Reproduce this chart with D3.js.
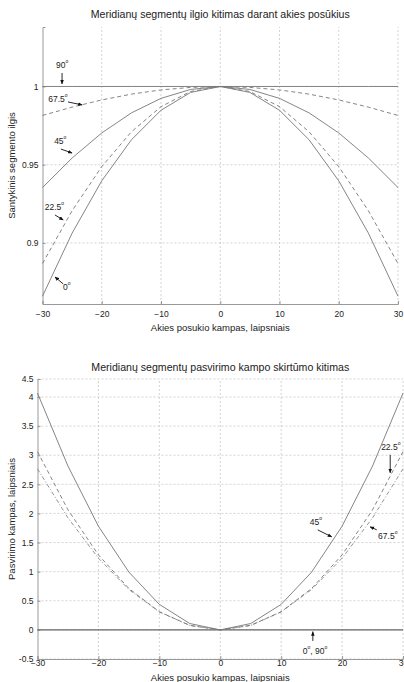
<!DOCTYPE html>
<html><head><meta charset="utf-8">
<script src="https://cdn.jsdelivr.net/npm/d3@7"></script>
<style>body{margin:0;background:#fff}svg{display:block}text{font-family:"Liberation Sans",Arial,sans-serif;fill:#222}</style>
</head><body>
<svg id="c" width="404" height="682"></svg>
<script>
// ---- data ----
const angles = [-30,-25,-20,-15,-10,-5,0,5,10,15,20,25,30];
const xTicks = [-30,-20,-10,0,10,20,30];
// chart 1: relative segment length
const len0   = [0.8660,0.9063,0.9397,0.9659,0.9848,0.9962,1,0.9962,0.9848,0.9659,0.9397,0.9063,0.8660];
const len225 = [0.8869,0.9206,0.9488,0.9710,0.9871,0.9968,1,0.9968,0.9871,0.9710,0.9488,0.9206,0.8869];
const len45  = [0.9354,0.9543,0.9703,0.9831,0.9924,0.9981,1,0.9981,0.9924,0.9831,0.9703,0.9543,0.9354];
const len675 = [0.9815,0.9868,0.9914,0.9951,0.9978,0.9994,1,0.9994,0.9978,0.9951,0.9914,0.9868,0.9815];
const len90  = [1,1,1,1,1,1,1,1,1,1,1,1,1];
const yTicks1 = [0.9,0.95,1];
// chart 2: tilt angle difference
const tilt45  = [4.107,2.814,1.781,0.993,0.438,0.109,0,0.109,0.438,0.993,1.781,2.814,4.107];
const tilt225 = [3.061,2.062,1.288,0.711,0.312,0.077,0,0.077,0.312,0.711,1.288,2.062,3.061];
const tilt675 = [2.766,1.924,1.232,0.694,0.308,0.077,0,0.077,0.308,0.694,1.232,1.924,2.766];
const tilt0_90 = [0,0,0,0,0,0,0,0,0,0,0,0,0];
const yTicks2 = [-0.5,0,0.5,1,1.5,2,2.5,3,3.5,4,4.5];

const svg = d3.select("#c");
const defs = svg.append("defs");
defs.append("marker").attr("id","ah").attr("viewBox","0 0 10 10").attr("refX",9).attr("refY",5)
  .attr("markerWidth",5).attr("markerHeight",5).attr("orient","auto")
  .append("path").attr("d","M0,1L10,5L0,9z").attr("fill","#111");

function chart(opt){
  const {x,y,yTicks,series,title,titleY,ylabel,xlabelY,annots,tickFmt,xPad} = opt;
  const g = svg.append("g");
  const [x0,x1] = x.range();
  const yb = y(y.domain()[0]), yt = y(y.domain()[y.domain().length-1]);
  // grid
  g.selectAll(".gv").data(xTicks.slice(1)).join("line")
    .attr("x1",d=>x(d)).attr("x2",d=>x(d)).attr("y1",yb).attr("y2",yt)
    .attr("stroke","#c8c8c8").attr("stroke-width",0.8).attr("stroke-dasharray","2,2");
  g.selectAll(".gh").data(yTicks).join("line")
    .attr("x1",x0).attr("x2",x1).attr("y1",d=>y(d)).attr("y2",d=>y(d))
    .attr("stroke","#c8c8c8").attr("stroke-width",0.8).attr("stroke-dasharray","2,2");
  // axes
  const ax = g.append("g").attr("transform",`translate(0,${yb})`)
    .call(d3.axisBottom(x).tickValues(xTicks).tickSize(-3).tickPadding(xPad).tickFormat(d3.format("d")));
  const ay = g.append("g").attr("transform",`translate(${x0},0)`)
    .call(d3.axisLeft(y).tickValues(yTicks).tickSize(-3).tickPadding(4).tickFormat(tickFmt));
  [ax,ay].forEach(a=>{
    a.select(".domain").attr("stroke","#999").attr("stroke-width",1);
    a.selectAll(".tick line").attr("stroke","#999");
    a.selectAll(".tick text").attr("font-size",8.5).attr("fill","#222")
      .attr("font-family",'"Liberation Sans",Arial,sans-serif');
  });
  // lines
  const line = d3.line().x((d,i)=>x(angles[i])).y(d=>y(d));
  series.forEach(s=>{
    g.append("path").datum(s.values).attr("d",line).attr("fill","none")
      .attr("stroke",s.color||"#777").attr("stroke-width",s.width||0.9)
      .attr("stroke-dasharray",s.dash||null);
  });
  // titles
  g.append("text").attr("x",(x0+x1)/2).attr("y",titleY).attr("text-anchor","middle")
    .attr("font-size",10.6).text(title);
  g.append("text").attr("x",(x0+x1)/2).attr("y",xlabelY).attr("text-anchor","middle")
    .attr("font-size",9.5).text("Akies posukio kampas, laipsniais");
  g.append("text").attr("transform",`translate(15,${(yb+yt)/2}) rotate(-90)`)
    .attr("text-anchor","middle").attr("font-size",9.5).text(ylabel);
  // annotations
  annots.forEach(a=>{
    const t = g.append("text").attr("x",x(a.tx)).attr("y",y(a.ty)).attr("text-anchor","middle")
      .attr("dominant-baseline","middle").attr("font-size",8.5);
    a.parts.forEach((p,i)=>{
      t.append("tspan").text(p);
      t.append("tspan").attr("font-size",5).attr("dy",-4).text("o");
      t.append("tspan").attr("dy",4).text(i<a.parts.length-1?", ":"");
    });
    g.append("line").attr("x1",x(a.ax1)).attr("y1",y(a.ay1)).attr("x2",x(a.ax2)).attr("y2",y(a.ay2))
      .attr("stroke","#111").attr("stroke-width",0.9).attr("marker-end","url(#ah)");
  });
  return g;
}

// chart 1
const x1s = d3.scaleLinear().domain([-30,30]).range([42.5,398]);
const y1s = d3.scaleLinear().domain([0.861,1.038]).range([304,27]);
chart({
  x:x1s, y:y1s, yTicks:yTicks1, tickFmt:d=>String(d), xPad:7,
  title:"Meridianų segmentų ilgio kitimas darant akies posūkius", titleY:18,
  ylabel:"Santykinis segmento ilgis", xlabelY:331,
  series:[
    {values:len90},
    {values:len675,dash:"4,3"},
    {values:len45},
    {values:len225,dash:"4,3"},
    {values:len0}
  ],
  annots:[
    {parts:["90"],tx:-26.7,ty:1.0131,ax1:-26.7,ay1:1.0086,ax2:-26.7,ay2:1.0016},
    {parts:["67.5"],tx:-27.4,ty:0.9914,ax1:-25.7,ay1:0.9901,ax2:-23.3,ay2:0.9882},
    {parts:["45"],tx:-27.0,ty:0.9645,ax1:-26.9,ay1:0.9600,ax2:-25.0,ay2:0.9575},
    {parts:["22.5"],tx:-28.0,ty:0.9223,ax1:-27.9,ay1:0.9179,ax2:-26.5,ay2:0.9147},
    {parts:["0"],tx:-25.9,ty:0.8712,ax1:-26.5,ay1:0.8738,ax2:-27.9,ay2:0.8783}
  ]
});

// chart 2
const x2s = d3.scaleLinear().domain([-30,30]).range([37.5,403]);
const y2s = d3.scaleLinear().domain([-0.5,4,4.5]).range([659,397,379]);
chart({
  x:x2s, y:y2s, yTicks:yTicks2, tickFmt:d=>String(d), xPad:1,
  title:"Meridianų segmentų pasvirimo kampo skirtūmo kitimas", titleY:371,
  ylabel:"Pasvirimo kampas, laipsniais", xlabelY:681,
  series:[
    {values:tilt0_90,color:"#666",width:1.4},
    {values:tilt675,dash:"4,2,1,2",color:"#888"},
    {values:tilt225,dash:"4,3"},
    {values:tilt45}
  ],
  annots:[
    {parts:["22.5"],tx:28.0,ty:3.127,ax1:27.9,ay1:3.007,ax2:27.9,ay2:2.698},
    {parts:["45"],tx:15.7,ty:1.838,ax1:16.0,ay1:1.718,ax2:18.3,ay2:1.598},
    {parts:["67.5"],tx:27.5,ty:1.598,ax1:25.7,ay1:1.718,ax2:24.6,ay2:1.770},
    {parts:["0","90"],tx:15.55,ty:-0.378,ax1:15.2,ay1:-0.19,ax2:15.2,ay2:-0.03}
  ]
});
</script>
</body></html>
